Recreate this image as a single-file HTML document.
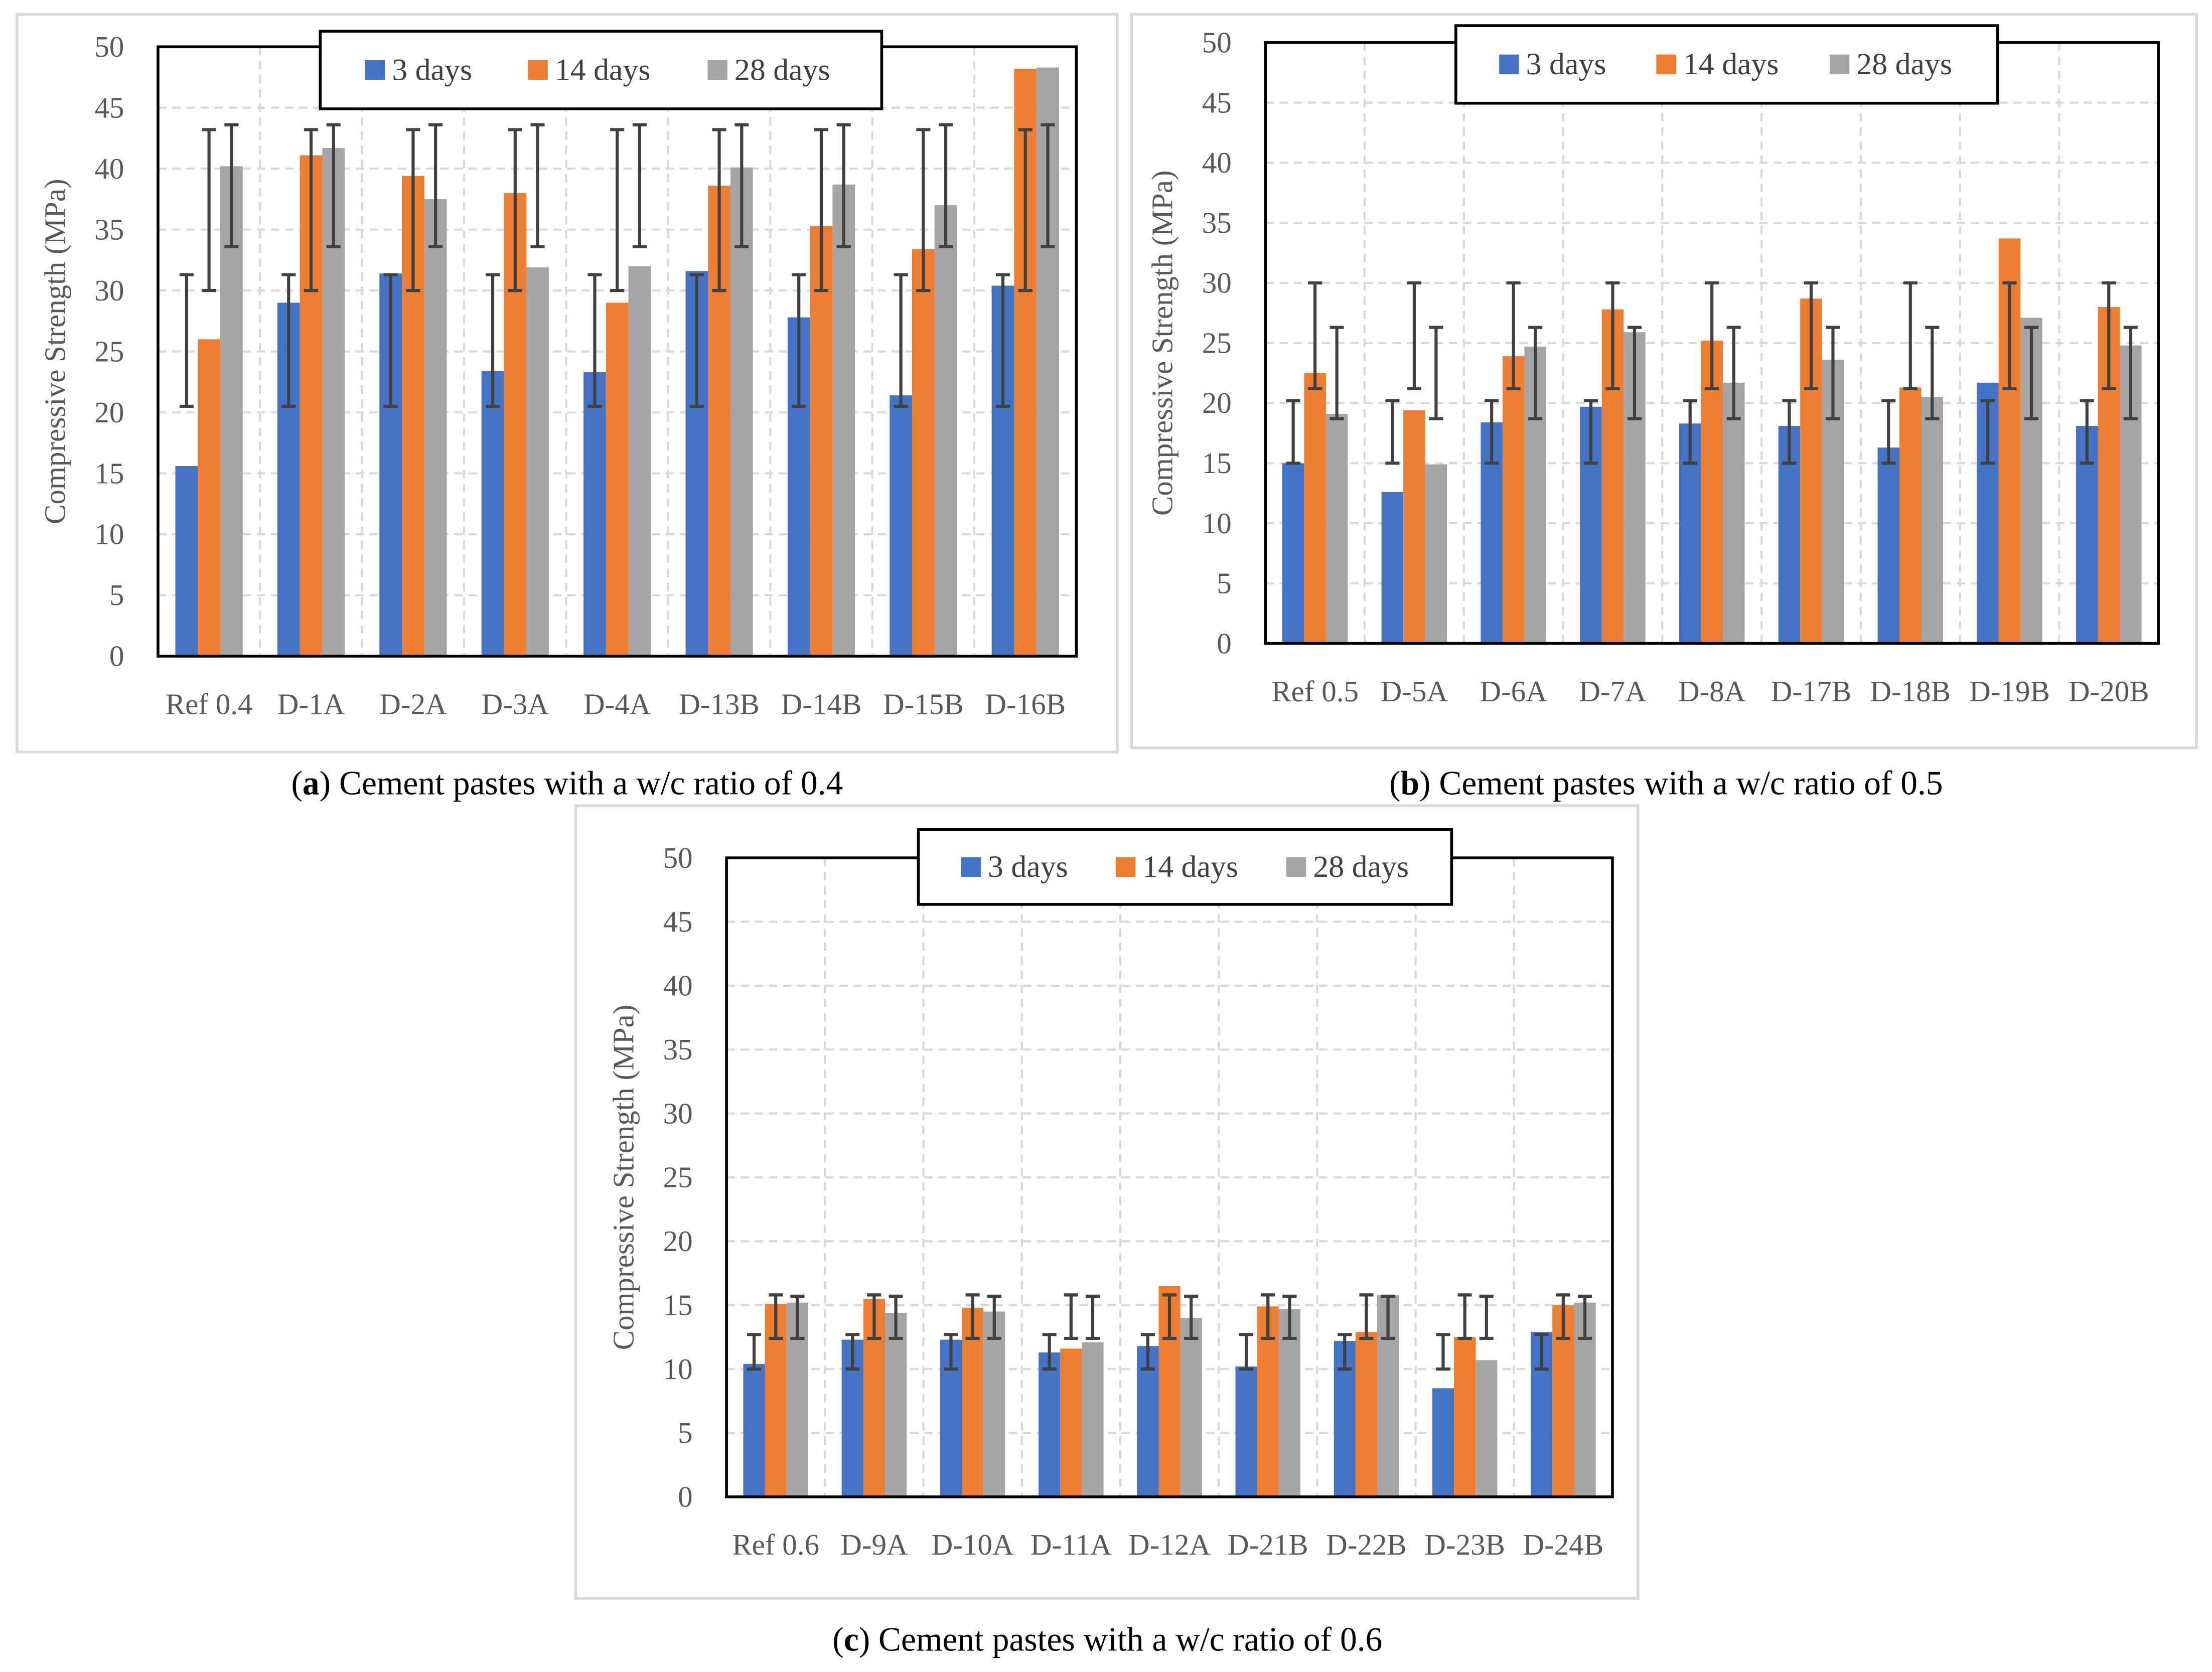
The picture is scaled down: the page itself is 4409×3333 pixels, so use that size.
<!DOCTYPE html>
<html><head><meta charset="utf-8"><style>
html,body{margin:0;padding:0;background:#fff}
svg{display:block}
text{font-family:"Liberation Serif",serif}
</style></head><body>
<svg id="chart" width="4409" height="3333" viewBox="0 0 1568 1185" xmlns="http://www.w3.org/2000/svg"></svg>
<script>
const catsA=["Ref 0.4","D-1A","D-2A","D-3A","D-4A","D-13B","D-14B","D-15B","D-16B"];
const d3A=[15.6,29,31.4,23.4,23.3,31.6,27.8,21.4,30.4];
const d14A=[26,41.1,39.4,38,29,38.6,35.3,33.4,48.2];
const d28A=[40.2,41.7,37.5,31.9,32,40.1,38.7,37,48.3];
const errA=[[20.5,31.3],[30,43.2],[33.6,43.6]];
const catsB=["Ref 0.5","D-5A","D-6A","D-7A","D-8A","D-17B","D-18B","D-19B","D-20B"];
const d3B=[15,12.6,18.4,19.7,18.3,18.1,16.3,21.7,18.1];
const d14B=[22.5,19.4,23.9,27.8,25.2,28.7,21.3,33.7,28];
const d28B=[19.1,14.9,24.7,25.9,21.7,23.6,20.5,27.1,24.8];
const errB=[[15,20.2],[21.2,30],[18.7,26.3]];
const catsC=["Ref 0.6","D-9A","D-10A","D-11A","D-12A","D-21B","D-22B","D-23B","D-24B"];
const d3C=[10.4,12.3,12.3,11.3,11.8,10.2,12.2,8.5,12.9];
const d14C=[15.1,15.5,14.8,11.6,16.5,14.9,12.9,12.5,15];
const d28C=[15.2,14.4,14.5,12.1,14,14.7,15.8,10.7,15.2];
const errC=[[10,12.7],[12.4,15.8],[12.4,15.7]];
const yTicks=[0,5,10,15,20,25,30,35,40,45,50];
const seriesNames=["3 days","14 days","28 days"];
const colors=["#4472c4","#ed7d31","#a5a5a5"];

const svg=document.getElementById('chart');
const NS="http://www.w3.org/2000/svg";
function mk(tag,attrs,parent,txt){const e=document.createElementNS(NS,tag);for(const k in attrs)e.setAttribute(k,attrs[k]);if(txt!==undefined)e.textContent=txt;(parent||svg).appendChild(e);return e;}

function panel(id,box,plot,legend,cats,series,errs,caption){
  const g=mk('g',{});
  
  
  const fr=mk('rect',{x:box[0],y:box[1],width:box[2]-box[0],height:box[3]-box[1],fill:'#fff',stroke:'#d9d9d9','stroke-width':2},g);
  
  
  const [x0,yTop,x1,yBot]=plot;
  const yS=v=>yBot-(v/50)*(yBot-yTop);
  const cw=(x1-x0)/cats.length;
  const xS=i=>x0+cw*i;
  yTicks.forEach(t=>{
    if(t>0&&t<50){const l=mk('line',{x1:x0,x2:x1,y1:yS(t),y2:yS(t),stroke:'#d9d9d9','stroke-width':1.5,'stroke-dasharray':'6,4'},g);
    }
    const tl=mk('text',{x:x0-24,y:yS(t)+7,'text-anchor':'end','font-size':21,fill:'#595959'},g,String(t));
    
  });
  for(let i=1;i<cats.length;i++){const l=mk('line',{x1:xS(i),x2:xS(i),y1:yTop,y2:yBot,stroke:'#d9d9d9','stroke-width':1.5,'stroke-dasharray':'6,4'},g);
    }
  const bw=cw*0.22;
  cats.forEach((c,i)=>{
    const cx=xS(i)+cw/2;
    series.forEach((s,k)=>{
      const bx=cx+(k-1.5)*bw;
      const r=mk('rect',{x:bx,y:yS(s[i]),width:bw,height:yBot-yS(s[i]),fill:colors[k]},g);
      
      
      const ex=bx+bw/2,lo=yS(errs[k][0]),hi=yS(errs[k][1]);
      const e=mk('path',{d:`M${ex},${lo}V${hi}M${ex-5},${lo}H${ex+5}M${ex-5},${hi}H${ex+5}`,stroke:'#404040','stroke-width':2.2,fill:'none'},g);
      
    });
    const xl=mk('text',{x:cx,y:yBot+41,'text-anchor':'middle','font-size':21,fill:'#595959'},g,c);
    
  });
  const pb=mk('rect',{x:x0,y:yTop,width:x1-x0,height:yBot-yTop,fill:'none',stroke:'#000','stroke-width':2},g);
  
  const ty=(yTop+yBot)/2;
  const at=mk('text',{x:0,y:0,transform:`translate(${x0-66},${ty}) rotate(-90)`,'text-anchor':'middle','font-size':21,fill:'#595959'},g,'Compressive Strength (MPa)');
  
  const lg=mk('g',{},g);
  
  mk('rect',{x:legend[0],y:legend[1],width:legend[2]-legend[0],height:legend[3]-legend[1],fill:'#fff',stroke:'#000','stroke-width':2},lg);
  const lw=(legend[2]-legend[0]);
  const offs=[0.08,0.37,0.69];
  seriesNames.forEach((n,k)=>{
    const lx=legend[0]+lw*offs[k], ly=(legend[1]+legend[3])/2;
    const sw=mk('rect',{x:lx,y:ly-7,width:14,height:14,fill:colors[k]},lg);
    
    const lt=mk('text',{x:lx+19,y:ly+7,'font-size':22,fill:'#404040'},lg,n);
    
  });
  const cp=mk('text',{x:caption[0],y:caption[1],'text-anchor':'middle','font-size':24,fill:'#000'},g);
  
  mk('tspan',{},cp,'(');mk('tspan',{'font-weight':'bold'},cp,id);mk('tspan',{},cp,') '+caption[2]);
}
panel('a',[12,10,792,533],[112,33,763,465],[227,22,625,77],catsA,[d3A,d14A,d28A],errA,[402,563,'Cement pastes with a w/c ratio of 0.4']);
panel('b',[802,10,1557,530],[897,30,1530,456],[1032,18,1416,73],catsB,[d3B,d14B,d28B],errB,[1181,563,'Cement pastes with a w/c ratio of 0.5']);
panel('c',[408,571,1161,1133],[515,608,1143,1061],[651,588,1029,641],catsC,[d3C,d14C,d28C],errC,[785,1170,'Cement pastes with a w/c ratio of 0.6']);
</script>
</body></html>
